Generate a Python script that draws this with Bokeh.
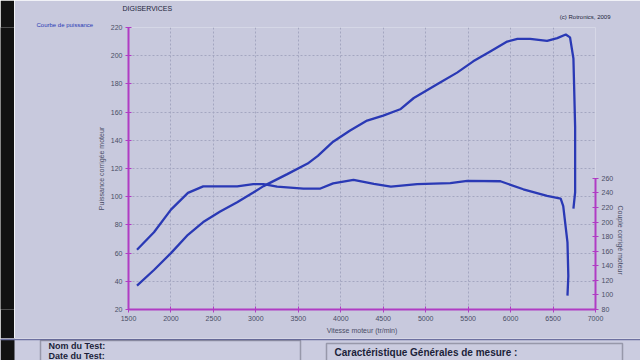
from bokeh.plotting import figure
from bokeh.layouts import row, column
from bokeh.models import Range1d, LinearAxis, FixedTicker, Label, BoxAnnotation, Title, Span
from bokeh.embed import file_html
from bokeh.resources import INLINE

# ---- data ----
rpm_power = [1600, 1800, 2000, 2200, 2380, 2580, 2780, 2970, 3090, 3370, 3610, 3730,
             3910, 4110, 4310, 4500, 4700, 4860, 5170, 5370, 5560, 5760, 5960, 6080,
             6230, 6430, 6550, 6650, 6700, 6740, 6760, 6760, 6740]
power = [37, 48, 60, 73, 82, 89.5, 96, 103, 107.5, 116, 123.5, 129,
         139, 147, 154, 157.5, 162, 170, 181, 188, 196, 203, 210, 212,
         212, 210.5, 212.5, 215, 213, 198, 150, 103, 91.5]

rpm_torque = [1600, 1800, 2000, 2200, 2380, 2580, 2780, 2970, 3090, 3250, 3560, 3760,
              3910, 4150, 4390, 4590, 4900, 5290, 5490, 5880, 6150, 6430, 6590, 6620,
              6670, 6680, 6670]
torque = [162, 186, 217, 240, 249, 249, 249, 252, 252, 248.5, 246, 246,
          253, 258, 252.5, 248.5, 252, 253.5, 256.5, 256, 245, 236, 232, 222,
          172, 126, 99]

x_ticks = [1500, 2000, 2500, 3000, 3500, 4000, 4500, 5000, 5500, 6000, 6500, 7000]
power_ticks = [20, 40, 60, 80, 100, 120, 140, 160, 180, 200, 220]
torque_ticks = [80, 100, 120, 140, 160, 180, 200, 220, 240, 260]

BG = "#c8c9dd"
MAG = "#b03cc4"
CURVE = "#2a39b5"
TXT = "#4a4d66"
INK = "#1c1f3a"
DARK = "#121212"
FONT = "Liberation Sans"

STRIP = 14
MAIN_H = 338

# ---- left dark bezel strip ----
strip = figure(width=STRIP, height=MAIN_H, output_backend="svg", toolbar_location=None,
               min_border=0, min_border_left=0, min_border_right=0,
               min_border_top=0, min_border_bottom=0, title_location=None)
strip.axis.visible = False
strip.grid.visible = False
strip.outline_line_color = None
strip.background_fill_color = DARK
strip.border_fill_color = DARK

# ---- main chart ----
p = figure(width=640 - STRIP, height=MAIN_H, x_range=Range1d(1500, 7000), y_range=Range1d(20, 220),
           output_backend="svg", toolbar_location=None, title_location=None,
           min_border_left=128 - STRIP, min_border_right=45, min_border_top=27, min_border_bottom=29)
p.background_fill_color = BG
p.border_fill_color = BG
p.outline_line_color = None

p.xaxis.ticker = FixedTicker(ticks=x_ticks)
p.yaxis.ticker = FixedTicker(ticks=power_ticks)
p.yaxis.axis_label = "Puissance corrigée moteur"
p.xaxis.axis_label = "Vitesse moteur (tr/min)"

p.extra_y_ranges = {"couple": Range1d(80, 467)}
ax2 = LinearAxis(y_range_name="couple", ticker=FixedTicker(ticks=torque_ticks),
                 bounds=(80, 260))
p.add_layout(ax2, "right")

for ax in [p.xaxis[0], p.yaxis[0], ax2]:
    ax.axis_line_color = MAG
    ax.axis_line_width = 2
    ax.major_tick_line_color = MAG
    ax.major_tick_in = 3
    ax.major_tick_out = 3
    ax.minor_tick_line_color = None
    ax.major_label_text_font_size = "7px"
    ax.major_label_text_color = TXT
    ax.major_label_text_font = FONT
    ax.major_label_standoff = 3
    ax.axis_label_text_font_size = "7px"
    ax.axis_label_text_font_style = "normal"
    ax.axis_label_text_color = TXT
    ax.axis_label_text_font = FONT
    ax.axis_label_standoff = 3

for g in [p.xgrid[0], p.ygrid[0]]:
    g.grid_line_color = "#a4a6c0"
    g.grid_line_dash = "2 2"
    g.grid_line_width = 1

p.line(rpm_power, power, color=CURVE, line_width=2.3)
p.line(rpm_torque, torque, color=CURVE, line_width=2.3, y_range_name="couple")

# texts above the frame (first added = nearest to the frame)
p.add_layout(Title(text="Courbe de puissance", align="left", offset=-92, standoff=0,
                   text_font_size="6px", text_color=CURVE, text_font=FONT,
                   text_font_style="normal"), "above")
p.add_layout(Title(text="(c) Rotronics, 2009", align="right", offset=-15, standoff=0,
                   text_font_size="6px", text_color=INK, text_font=FONT,
                   text_font_style="normal"), "above")
p.add_layout(Title(text="DIGISERVICES", align="left", offset=-6, standoff=0,
                   text_font_size="7px", text_color=INK, text_font=FONT,
                   text_font_style="normal"), "above")
p.add_layout(Title(text="Couple corrigé moteur", align="left", offset=178, standoff=0,
                   text_font_size="7px", text_color=TXT, text_font=FONT,
                   text_font_style="normal"), "right")

# ---- bottom information band (full width, canvas-pixel coordinates) ----
b = figure(width=640, height=360 - MAIN_H, x_range=Range1d(0, 640), y_range=Range1d(360, MAIN_H),
           output_backend="svg", toolbar_location=None, title_location=None,
           min_border=0, min_border_left=0, min_border_right=0,
           min_border_top=0, min_border_bottom=0)
b.axis.visible = False
b.grid.visible = False
b.outline_line_color = None
b.background_fill_color = "#cbcce0"
b.border_fill_color = "#cbcce0"
b.add_layout(BoxAnnotation(left=0, right=STRIP, top=MAIN_H, bottom=360, fill_color=DARK,
                           fill_alpha=1, line_color=None))
b.add_layout(Span(location=339, dimension="width", line_color="#6d70a0", line_width=1.5))
b.add_layout(BoxAnnotation(left=40, right=300, top=340, bottom=364, fill_alpha=0,
                           line_color="#202030", line_width=1.5))
b.add_layout(BoxAnnotation(left=326, right=622, top=343, bottom=364, fill_alpha=0,
                           line_color="#202030", line_width=1.5))
for x, y, t, s in [(48, 345.5, "Nom du Test:", "9px"), (48, 355, "Date du Test:", "9px"),
                   (334, 352, "Caractéristique Générales de mesure :", "10px")]:
    b.add_layout(Label(x=x, y=y, text=t, text_font_size=s, text_color=INK,
                       text_font=FONT, text_font_style="bold", text_baseline="middle"))

layout = column(row(strip, p), b)
out = file_html(layout, INLINE)
open("out.html", "w").write(out)
